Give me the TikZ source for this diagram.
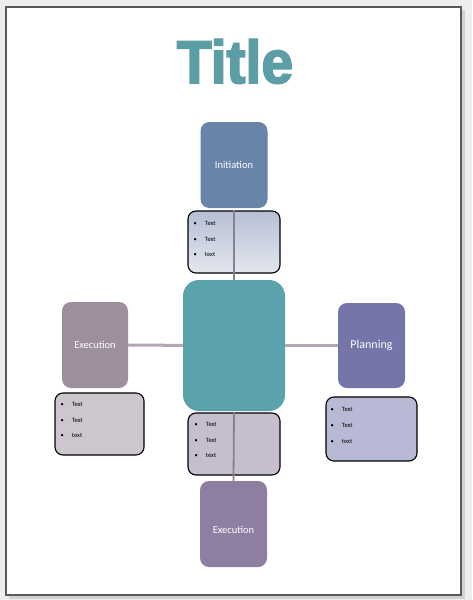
\documentclass[tikz,border=0pt]{standalone}
\usepackage{fontspec}
\setmainfont{Carlito}
\newfontfamily\titlefont[BoldFeatures={FakeBold=3}]{Liberation Sans}

\definecolor{titleteal}{HTML}{5B9EA6}
\definecolor{inicol}{HTML}{6884A8}
\definecolor{corecol}{HTML}{5BA3AC}
\definecolor{execcol}{HTML}{9D8F9E}
\definecolor{plancol}{HTML}{7575A9}
\definecolor{bexeccol}{HTML}{8E7EA2}
\definecolor{notetop}{HTML}{B6C0D4}
\definecolor{notebot}{HTML}{E3E6EE}
\definecolor{lnotecol}{HTML}{CDC6CF}
\definecolor{rnotecol}{HTML}{B8B9D4}
\definecolor{bnotecol}{HTML}{C6BDCF}
\definecolor{linkcol}{HTML}{B5A5B5}
\definecolor{rulecol}{HTML}{8A8090}
\definecolor{framegray}{HTML}{EEEEEE}
\definecolor{shadegray}{HTML}{D2D2D2}

\newcommand\tlist{\textbullet\hspace{8pt}Text\\\textbullet\hspace{8pt}Text\\\textbullet\hspace{8pt}text}

\tikzset{
  phase/.style={rounded corners=9pt,text=white,inner sep=0pt,
    minimum width=67pt,minimum height=86pt,font=\fontsize{10.5}{12}\selectfont},
  note/.style={draw=black,line width=1.1pt,rounded corners=8pt,inner sep=0pt,
    minimum width=92pt,minimum height=62pt},
  items/.style={anchor=north west,align=left,inner sep=0pt,
    font=\fontsize{6.5}{15.5}\selectfont},
  link/.style={draw=linkcol,line width=3pt},
  rule/.style={draw=rulecol,line width=1.8pt}
}

\begin{document}
\begin{tikzpicture}[x=1pt,y=-1pt]
  \useasboundingbox (0,0) rectangle (472,600);
  \fill[framegray] (0,0) rectangle (472,600);
  \fill[shadegray] (9,10) rectangle (465,599);
  \draw[fill=white,draw=black!65,line width=1.2pt] (6,7) rectangle (461,595);

  \node[anchor=base,text=titleteal,font=\titlefont\bfseries\fontsize{57}{60}\selectfont] (title) at (235,83) {\scalebox{1}[1.06]{Title}};

  \node[phase,fill=inicol] (init) at (234,165) {Initiation};
  \node[note,top color=notetop,bottom color=notebot] (tnote) at (234,242) {};
  \node[items] (tlist) at (193.5,221.5) {\tlist};

  \node[phase,fill=corecol,rounded corners=16pt,minimum width=102pt,minimum height=131pt] (core) at (234,345.5) {};

  \node[phase,fill=execcol,minimum width=66pt] (lexec) at (95,345) {Execution};
  \node[note,fill=lnotecol,minimum width=89pt] (lnote) at (99.5,424) {};
  \node[items] (llist) at (60.5,402.5) {\tlist};

  \node[phase,fill=plancol,minimum height=85pt,text height=8pt,text depth=2pt,font=\fontsize{12}{14}\selectfont] (plan) at (371.5,345.5) {Planning};
  \node[note,fill=rnotecol,minimum width=91pt,minimum height=64pt] (rnote) at (371.5,429) {};
  \node[items,font=\fontsize{6.5}{16}\selectfont] (rlist) at (330.5,407.5) {\tlist};

  \node[note,fill=bnotecol] (bnote) at (234,444) {};
  \node[items] (blist) at (194.5,422.5) {\tlist};
  \node[phase,fill=bexeccol,text height=19pt,text depth=0pt] (bexec) at (233.5,524) {Execution};

  \draw[link] (lexec) -- (core);
  \draw[link] (core) -- (plan);
  \draw[rule] (tnote.north) -- (core.north);
  \draw[rule] (bnote.north) -- (bexec.north);
\end{tikzpicture}
\end{document}
